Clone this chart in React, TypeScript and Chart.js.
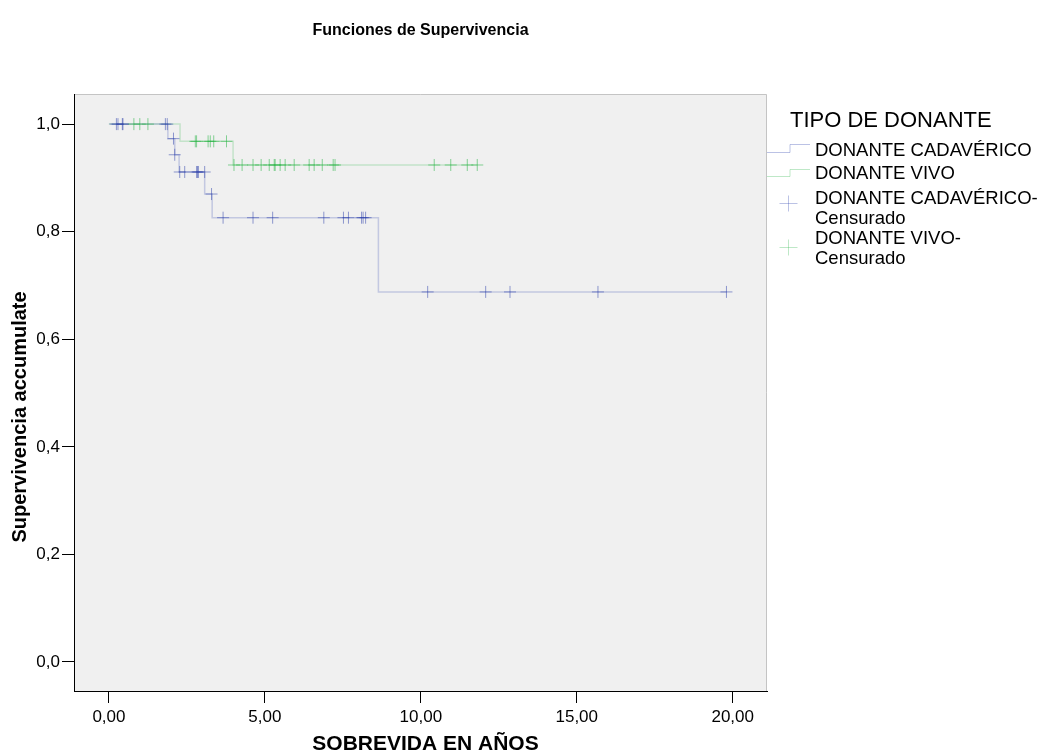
import React, { useEffect, useRef } from "react";
import { Chart, registerables } from "chart.js";
Chart.register(...registerables);

const chartTitle = "Funciones de Supervivencia";
const xTitle = "SOBREVIDA EN AÑOS";
const yTitle = "Supervivencia accumulate";
const legendTitle = "TIPO DE DONANTE";
const legendLabels = [
  ["DONANTE CADAVÉRICO"],
  ["DONANTE VIVO"],
  ["DONANTE CADAVÉRICO-", "Censurado"],
  ["DONANTE VIVO-", "Censurado"],
];

const xTicks = [0, 5, 10, 15, 20];
const yTicks = [0, 0.2, 0.4, 0.6, 0.8, 1.0];

// Kaplan-Meier step points (time, survival)
const cadTimes = [0, 1.89, 2.11, 2.25, 3.07, 3.31, 8.64, 19.8];
const cadSurv = [1.0, 0.973, 0.943, 0.911, 0.87, 0.826, 0.688, 0.688];
const vivoTimes = [0, 2.28, 3.98, 11.81];
const vivoSurv = [1.0, 0.968, 0.924, 0.924];

// censored observations
const cadCensTimes = [
  0.24, 0.29, 0.43, 0.45, 1.81, 1.87, 2.07, 2.11, 2.27, 2.43, 2.81, 2.84, 2.87,
  3.07, 3.29, 3.66, 4.62, 5.25, 6.89, 7.52, 7.68, 8.1, 8.15, 8.23, 10.22,
  12.08, 12.86, 15.68, 19.8,
];
const cadCensSurv = [
  1.0, 1.0, 1.0, 1.0, 1.0, 1.0, 0.973, 0.943, 0.911, 0.911, 0.911, 0.911,
  0.911, 0.911, 0.87, 0.826, 0.826, 0.826, 0.826, 0.826, 0.826, 0.826, 0.826,
  0.826, 0.688, 0.688, 0.688, 0.688, 0.688,
];
const vivoCensTimes = [
  0.8, 0.99, 1.25, 2.77, 2.81, 3.18, 3.25, 3.36, 3.77, 4.01, 4.27, 4.62, 4.88,
  5.14, 5.3, 5.33, 5.49, 5.65, 5.94, 6.42, 6.58, 6.84, 7.19, 7.25, 10.43,
  10.96, 11.49, 11.81,
];
const vivoCensSurv = [
  1.0, 1.0, 1.0, 0.968, 0.968, 0.968, 0.968, 0.968, 0.968, 0.924, 0.924,
  0.924, 0.924, 0.924, 0.924, 0.924, 0.924, 0.924, 0.924, 0.924, 0.924, 0.924,
  0.924, 0.924, 0.924, 0.924, 0.924, 0.924,
];

const FONT = "'Liberation Sans', Arial, sans-serif";
const blueLine = "rgba(60,80,180,0.25)";
const greenLine = "rgba(40,180,70,0.22)";
const blueCross = "rgba(40,60,170,0.5)";
const greenCross = "rgba(40,180,70,0.55)";

const toXY = (xs: number[], ys: number[]) => xs.map((x, i) => ({ x, y: ys[i] }));
const fmtX = (v: number) => v.toFixed(2).replace(".", ",");
const fmtY = (v: number) => v.toFixed(1).replace(".", ",");

const decor = {
  id: "decor",
  beforeDraw(chart: any) {
    const { ctx, chartArea } = chart;
    const { left, top, right, bottom } = chartArea;
    ctx.save();
    ctx.fillStyle = "#F0F0F0";
    ctx.fillRect(left, top, right - left, bottom - top);
    ctx.strokeStyle = "#c4c4c4";
    ctx.lineWidth = 1;
    ctx.beginPath();
    ctx.moveTo(left, top + 0.5);
    ctx.lineTo(right - 0.5, top + 0.5);
    ctx.lineTo(right - 0.5, bottom);
    ctx.stroke();
    ctx.restore();
  },
  afterDraw(chart: any) {
    const { ctx, chartArea } = chart;
    const cx = (chartArea.left + chartArea.right) / 2;
    ctx.save();
    ctx.fillStyle = "#000";
    ctx.textBaseline = "middle";
    ctx.textAlign = "center";
    ctx.font = `bold 16px ${FONT}`;
    ctx.fillText(chartTitle, cx, 31);
    ctx.font = `bold 21px ${FONT}`;
    ctx.fillText(xTitle, cx + 5, 744);
    ctx.font = `bold 20px ${FONT}`;
    ctx.save();
    ctx.translate(20, 417);
    ctx.rotate(-Math.PI / 2);
    ctx.fillText(yTitle, 0, 0);
    ctx.restore();

    // legend
    ctx.textAlign = "left";
    ctx.font = `22px ${FONT}`;
    ctx.fillText(legendTitle, 790, 121);
    ctx.font = `18.5px ${FONT}`;
    const tx = 815;
    ctx.fillText(legendLabels[0][0], tx, 151);
    ctx.fillText(legendLabels[1][0], tx, 174);
    ctx.fillText(legendLabels[2][0], tx, 199);
    ctx.fillText(legendLabels[2][1], tx, 218.5);
    ctx.fillText(legendLabels[3][0], tx, 239);
    ctx.fillText(legendLabels[3][1], tx, 258.5);

    ctx.lineWidth = 1;
    const step = (y0: number, y1: number, c: string) => {
      ctx.strokeStyle = c;
      ctx.beginPath();
      ctx.moveTo(767, y0);
      ctx.lineTo(790, y0);
      ctx.lineTo(790, y1);
      ctx.lineTo(810, y1);
      ctx.stroke();
    };
    step(152.5, 144.5, "rgba(60,80,180,0.35)");
    step(176.5, 169.5, "rgba(40,180,70,0.3)");
    const cross = (x: number, y: number, c: string) => {
      ctx.strokeStyle = c;
      ctx.beginPath();
      ctx.moveTo(x - 9, y);
      ctx.lineTo(x + 9, y);
      ctx.moveTo(x, y - 8);
      ctx.lineTo(x, y + 8);
      ctx.stroke();
    };
    cross(788.5, 203.5, "rgba(60,80,180,0.35)");
    cross(788.5, 247.5, "rgba(40,180,70,0.3)");
    ctx.restore();
  },
};

export default function App() {
  const ref = useRef<HTMLCanvasElement | null>(null);
  useEffect(() => {
    document.body.style.margin = "0";
    const canvas = ref.current!;
    const chart = new Chart(canvas, {
      type: "line",
      data: {
        datasets: [
          {
            label: "cadCens",
            data: toXY(cadCensTimes, cadCensSurv),
            showLine: false,
            pointStyle: "cross",
            pointRadius: 6,
            pointBorderWidth: 1,
            pointBorderColor: blueCross,
            borderColor: blueCross,
          },
          {
            label: "vivoCens",
            data: toXY(vivoCensTimes, vivoCensSurv),
            showLine: false,
            pointStyle: "cross",
            pointRadius: 6,
            pointBorderWidth: 1,
            pointBorderColor: greenCross,
            borderColor: greenCross,
          },
          {
            label: "cad",
            data: toXY(cadTimes, cadSurv),
            stepped: "before",
            borderColor: blueLine,
            borderWidth: 1.5,
            pointRadius: 0,
            fill: false,
          },
          {
            label: "vivo",
            data: toXY(vivoTimes, vivoSurv),
            stepped: "before",
            borderColor: greenLine,
            borderWidth: 1.5,
            pointRadius: 0,
            fill: false,
          },
        ],
      },
      options: {
        animation: false,
        responsive: false,
        devicePixelRatio: 1,
        layout: { padding: { top: 94, right: 276, left: 0, bottom: 0 } },
        plugins: {
          legend: { display: false },
          title: { display: false },
          tooltip: { enabled: false },
        },
        scales: {
          x: {
            type: "linear",
            min: -1.12,
            max: 21.1,
            afterFit: (s: any) => {
              s.height = 64;
            },
            afterBuildTicks: (s: any) => {
              s.ticks = xTicks.map((v) => ({ value: v }));
            },
            border: { display: true, color: "#000", width: 1 },
            grid: {
              drawOnChartArea: false,
              drawTicks: true,
              tickLength: 12,
              color: "#000",
            },
            ticks: {
              color: "#000",
              font: { family: FONT, size: 17 },
              padding: 4,
              maxRotation: 0,
              callback: (v: any) => fmtX(Number(v)),
            },
          },
          y: {
            type: "linear",
            min: -0.054,
            max: 1.056,
            afterFit: (s: any) => {
              s.width = 74;
            },
            afterBuildTicks: (s: any) => {
              s.ticks = yTicks.map((v) => ({ value: v }));
            },
            border: { display: true, color: "#000", width: 1 },
            grid: {
              drawOnChartArea: false,
              drawTicks: true,
              tickLength: 12,
              color: "#000",
            },
            ticks: {
              color: "#000",
              font: { family: FONT, size: 17 },
              padding: 2,
              callback: (v: any) => fmtY(Number(v)),
            },
          },
        },
      },
      plugins: [decor],
    });
    return () => chart.destroy();
  }, []);
  return (
    <div style={{ position: "absolute", left: 0, top: 0, width: 1043, height: 755, overflow: "hidden", background: "#fff" }}>
      <canvas ref={ref} width={1043} height={755} style={{ width: 1043, height: 755, display: "block" }} />
    </div>
  );
}
